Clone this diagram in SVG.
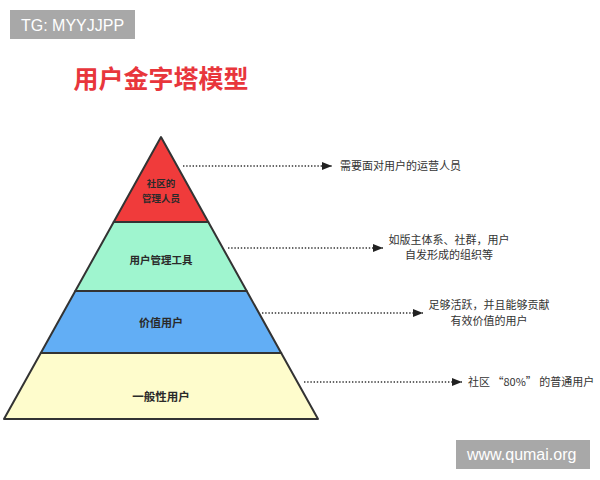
<svg xmlns="http://www.w3.org/2000/svg" width="600" height="480" viewBox="0 0 600 480">
<defs>
<marker id="ah" viewBox="0 0 10 8" refX="10" refY="4" markerWidth="10" markerHeight="8" markerUnits="userSpaceOnUse" orient="auto">
<path d="M0,0 L10,4 L0,8 Z" fill="#222"/>
</marker>
<style>
.layer{stroke:#333;stroke-width:2;stroke-linejoin:round}
.lbl{font-family:"Noto Sans CJK SC","Liberation Sans",sans-serif;font-weight:bold;fill:#2a2a2a;text-anchor:middle}
.note{font-family:"Noto Sans CJK SC","Liberation Sans",sans-serif;font-size:11px;fill:#333}
.dot{stroke:#333;stroke-width:1.6;stroke-dasharray:1.4 1.8;fill:none}
.badge{fill:#a8a8a8}
.badgeT{font-family:"Liberation Sans",Arial,sans-serif;font-size:16px;fill:#fff}
</style>
</defs>
<rect width="600" height="480" fill="#fff"/>
<g id="badge-tg"><rect class="badge" x="10" y="10" width="125" height="29"/><text class="badgeT" x="21" y="30.5">TG: MYYJJPP</text></g>
<g id="title"><text x="161" y="88" text-anchor="middle" font-family="Noto Sans CJK SC, sans-serif" font-weight="bold" font-size="25" fill="#e8363c">用户金字塔模型</text></g>
<g id="layer-base"><polygon class="layer" points="40.8,353 281.2,353 318,419 4,419" fill="#fefccc"/><text class="lbl" x="161" y="401" font-size="11.5">一般性用户</text></g>
<g id="layer-value"><polygon class="layer" points="75.3,291 246.7,291 281.2,353 40.8,353" fill="#62aef5"/><text class="lbl" x="161" y="327" font-size="11">价值用户</text></g>
<g id="layer-tools"><polygon class="layer" points="113.7,222 208.3,222 246.7,291 75.3,291" fill="#9ff5cf"/><text class="lbl" x="161" y="264" font-size="10.5">用户管理工具</text></g>
<g id="layer-top"><polygon class="layer" points="161,137 208.3,222 113.7,222" fill="#f03b3b"/><text class="lbl" x="161" y="187" font-size="9.5">社区的</text><text class="lbl" x="161" y="202" font-size="9.5">管理人员</text></g>
<g id="connectors">
<line class="dot" x1="183" y1="166" x2="332" y2="166" marker-end="url(#ah)"/>
<line class="dot" x1="228" y1="248" x2="383" y2="248" marker-end="url(#ah)"/>
<line class="dot" x1="262" y1="313" x2="423" y2="313" marker-end="url(#ah)"/>
<line class="dot" x1="304" y1="382" x2="462" y2="382" marker-end="url(#ah)"/>
</g>
<g id="note-top"><text class="note" x="340" y="170">需要面对用户的运营人员</text></g>
<g id="note-tools"><text class="note" x="449" y="244" text-anchor="middle">如版主体系、社群，用户</text><text class="note" x="449" y="259" text-anchor="middle">自发形成的组织等</text></g>
<g id="note-value"><text class="note" x="489" y="309" text-anchor="middle">足够活跃，并且能够贡献</text><text class="note" x="489" y="325" text-anchor="middle">有效价值的用户</text></g>
<g id="note-base"><text class="note" x="468" y="386">社区 “80%” 的普通用户</text></g>
<g id="badge-site"><rect class="badge" x="456" y="440" width="134" height="29"/><text class="badgeT" x="467" y="460">www.qumai.org</text></g>
</svg>
